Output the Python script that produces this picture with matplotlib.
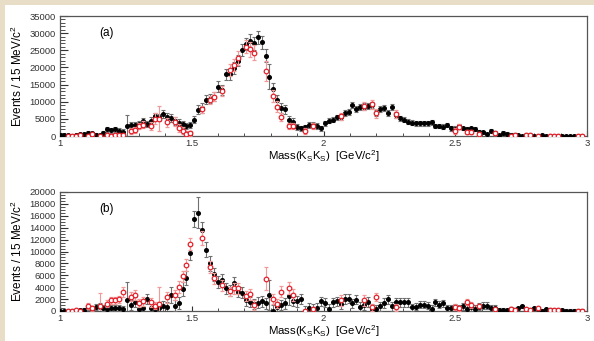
import numpy as np
import matplotlib
matplotlib.use("Agg")
import matplotlib.pyplot as plt
from matplotlib.patches import Rectangle
from matplotlib.ticker import MultipleLocator

plt.rcParams["font.family"] = ["Liberation Sans", "DejaVu Sans"]
plt.rcParams["mathtext.fontset"] = "custom"
plt.rcParams["mathtext.rm"] = "Liberation Sans"
plt.rcParams["mathtext.it"] = "Liberation Sans"

# -------------------------------
# Data: 15 MeV bins from 1.0 GeV
# -------------------------------

mass = 1.0 + 0.015 * np.arange(133)

top_black = [
    200, 200, 300, 100, 200, 600, 600, 900, 800, 400, 200,
    1000, 1900, 1700, 2000, 1600, 1200, 2800, 3200, 3300, 3600,
    4300, 3500, 4500, 5700, 5400, 6400, 5600, 5200, 4400, 3900,
    3400, 2900, 3200, 4800, 7600, 8100, 10600, 10900, 11500, 14400,
    13500, 18000, 18000, 19800, 22000, 25000, 26800, 27800, 27000, 28800,
    27300, 23400, 17300, 13600, 10500, 8100, 7800, 4600, 4200, 2600,
    2200, 2500, 3200, 3300, 2900, 2200, 3700, 4500, 4800, 5400,
    5500, 6800, 7100, 9000, 7800, 8500, 8600, 8800, 9000, 6600,
    7800, 8100, 6600, 8400, 6200, 5200, 4700, 4200, 3900, 3700,
    3700, 3700, 3700, 4000, 2900, 2900, 2700, 3200, 2200, 2100,
    2900, 2200, 2000, 2200, 2100, 1300, 1100, 500, 1600, 1000,
    200, 900, 600, 300, 400, 200, 100, 300, 400, 100,
    100, 200, 100, 100, 100, 100, 100, 100, 100, 100, 100, 100,
]
top_black_err = (
    [300, 300, 300, 300, 300, 400, 400, 500, 500, 400, 400]
    + [600, 700, 700, 700, 700, 700]
    + [3200]
    + [900, 900, 900, 1000, 1000, 1000, 1100, 1100,
       1200, 1200, 1200, 1200, 1100, 1100, 1000, 1000]
    + [1100, 1300, 1400, 1400, 1400, 1400, 1500, 1500]
    + [1600, 1600, 1700, 1700, 1800, 1800, 1900, 1900, 1900, 1900, 1900]
    + [3700]
    + [1900, 1600, 1400, 1300, 1100, 1000, 900]
    + [800] * 10
    + [900] * 15
    + [700] * 15
    + [500] * 15
    + [250] * 17
)

red_bins = [
    2, 3, 4, 5, 7, 8, 10, 12, 13, 14, 15, 16, 18, 19, 20, 21,
    23, 24, 25, 27, 29, 30, 31, 32, 33, 36, 38, 39, 41, 43, 44, 45,
    47, 48, 49, 52, 54, 55, 56, 58, 59, 62, 64, 71, 77, 79, 80, 85,
    100, 101, 103, 104, 106, 110, 114, 115, 118, 119, 121, 124, 125, 126,
    131, 132,
]
top_red = [
    0, 0, 0, 300, 0, 500, 0, 300, 100, 400, 200, 200, 1550, 1750, 2900, 3300,
    2900, 5100, 5100, 4000, 4200, 2400, 1500, 600, 800, 7800, 10500, 11500,
    13100, 19200, 20700, 22800, 26100, 25300, 24300, 19000, 11700, 8600, 5500,
    2900, 2900, 1500, 3000, 5800, 8700, 9200, 6600, 6400,
    1500, 2700, 1200, 1200, 600, 800, 100, 400, 300, 400, 100, 100, 100, 100,
    100, 100,
]
top_red_err = [
    200, 200, 200, 300, 300, 500, 300, 500, 500, 500, 500, 500, 900, 900,
    1000, 1000, 1200, 1500, 3700, 1300, 1300, 1200, 1000, 800, 800, 1000,
    1300, 1300, 1500, 1800, 1800, 2000, 2000, 2200, 2200, 3000, 1800, 1500,
    1200, 900, 900, 800, 900, 1000, 1200, 1300, 1300, 1200,
    800, 800, 600, 600, 500, 400, 300, 300, 300, 300, 200, 200, 200, 200,
    200, 200,
]

bot_black = [
    50, 50, 30, 30, 50, 100, 200, 600, 300, 700, 900,
    450, 330, 550, 550, 450, 300, 1800, 1000, 1550, 330,
    550, 2000, 450, 300, 550, 780, 600, 2650, 900, 1300,
    3700, 5600, 9800, 15500, 16500, 13600, 10300, 8000, 6200, 4900,
    5200, 3800, 3400, 4700, 3200, 3050, 1800, 1500, 1200, 1400,
    1600, 1300, 2700, 50, 600, 1000, 1300, 2500, 1700, 1600,
    2000, 50, 500, 350, 500, 1600, 1400, 330, 1450, 1600,
    1170, 2000, 2100, 1280, 1900, 720, 1000, 1550, 330, 280,
    780, 1330, 1950, 780, 1450, 1450, 1450, 1450, 650, 720,
    1050, 1050, 900, 330, 1450, 1050, 1330, 450, 450, 500,
    400, 780, 330, 600, 330, 700, 900, 900, 450, 450,
    220, 220, 170, 350, 200, 500, 830, 300, 200, 450,
    400, 50, 280, 200, 170, 170, 170, 50, 50, 50, 50, 50,
]
bot_black_err = (
    [100, 100, 100, 100, 100, 200, 300, 400, 400,
     500, 500, 500, 500, 500, 500, 500, 500]
    + [3000]
    + [800, 800, 800, 800, 900, 800, 800, 900, 900, 900]
    + [1300]
    + [900, 1000, 1100, 1200, 1300]
    + [1300, 2600]
    + [1400, 1300, 1200, 1100, 1000, 1000, 900, 900, 1000, 900, 900]
    + [900] * 6
    + [2500]
    + [900, 900, 900, 900, 1500, 900, 900, 900]
    + [800] * 27
    + [600] * 22
    + [250] * 22
)

bot_red = [
    0, 0, 100, 50, 900, 450, 900, 1200, 1800, 1800, 2000, 3200, 2400, 2650,
    1300, 1600, 1450, 900, 1200, 2300, 2700, 4100, 5800, 7800, 11300, 12300,
    7400, 5500, 4300, 3300, 3800, 3800, 2500, 2800, 1050, 5450, 2000, 1250,
    3250, 3800, 2700, 50, 330, 1800, 1800, 600, 2400, 600,
    600, 450, 1450, 1050, 830, 280, 400, 220, 330, 220, 450, 220, 170, 170,
    50, 50,
]
bot_red_err = [
    100, 100, 200, 100, 500, 400, 2200, 600, 600, 600, 600, 800, 800, 800,
    700, 700, 700, 600, 2900, 900, 900, 1000, 1000, 1000, 1000, 1200,
    1000, 900, 900, 800, 900, 900, 900, 900, 800, 2000, 900, 800,
    900, 1000, 1000, 200, 400, 900, 900, 600, 700, 600,
    500, 400, 500, 500, 400, 300, 300, 200, 200, 200, 300, 150, 150, 150,
    100, 100,
]

# -------------------------------
# Figure
# -------------------------------

fig = plt.figure(figsize=(5.94, 3.41), dpi=100, facecolor="#e8dec8")
fig.patches.append(Rectangle((5 / 594, 0), 1, 336 / 341,
                             transform=fig.transFigure,
                             facecolor="white", edgecolor="none", zorder=-5))

panels = [
    ([60 / 594, 1 - 136 / 341, 527 / 594, 120 / 341],
     top_black, top_black_err, top_red, top_red_err, 35000, 5000, 1000, "(a)"),
    ([60 / 594, 1 - 311 / 341, 527 / 594, 119 / 341],
     bot_black, bot_black_err, bot_red, bot_red_err, 20000, 2000, 500, "(b)"),
]

red_mass = mass[red_bins]

for rect, blk, blk_err, red, red_err, ymax, major, minor, tag in panels:
    ax = fig.add_axes(rect)
    ax.set_facecolor("white")

    ax.errorbar(mass, blk, yerr=blk_err, fmt="o", ms=2.6,
                color="black", ecolor="#707070", elinewidth=0.8,
                capsize=1.2, capthick=0.8, zorder=3)
    ax.errorbar(red_mass, red, yerr=red_err, fmt="o", ms=3.3,
                mfc="white", mec="#e3202a", mew=0.9,
                ecolor="#f29a9a", elinewidth=0.8,
                capsize=1.2, capthick=0.8, zorder=4)

    ax.set_xlim(1, 3)
    ax.set_ylim(0, ymax)
    ax.xaxis.set_major_locator(MultipleLocator(0.5))
    ax.xaxis.set_minor_locator(MultipleLocator(0.1))
    ax.yaxis.set_major_locator(MultipleLocator(major))
    ax.yaxis.set_minor_locator(MultipleLocator(minor))
    ax.set_xticks([1, 1.5, 2, 2.5, 3])
    ax.set_xticklabels(["1", "1.5", "2", "2.5", "3"])

    ax.tick_params(axis="both", which="both", direction="in",
                   top=False, right=False, labelsize=6.8, colors="#333333")
    ax.tick_params(axis="y", which="major", length=5.5, pad=3)
    ax.tick_params(axis="y", which="minor", length=3.5)
    ax.tick_params(axis="x", which="major", length=3.5, pad=2)
    ax.tick_params(axis="x", which="minor", length=2)

    for sp in ax.spines.values():
        sp.set_color("#555555")
        sp.set_linewidth(0.9)

    ax.set_ylabel("Events / 15 MeV/c$^2$", fontsize=8.5, labelpad=3)
    ax.set_xlabel("Mass(K$_\\mathregular{S}$K$_\\mathregular{S}$)  [GeV/c$^2$]",
                  fontsize=8.2, labelpad=0.5)
    ax.text(0.075, 0.86, tag, transform=ax.transAxes, fontsize=8.5,
            va="center", ha="left")

plt.savefig("out.png", dpi=100, facecolor=fig.get_facecolor())
plt.close()
